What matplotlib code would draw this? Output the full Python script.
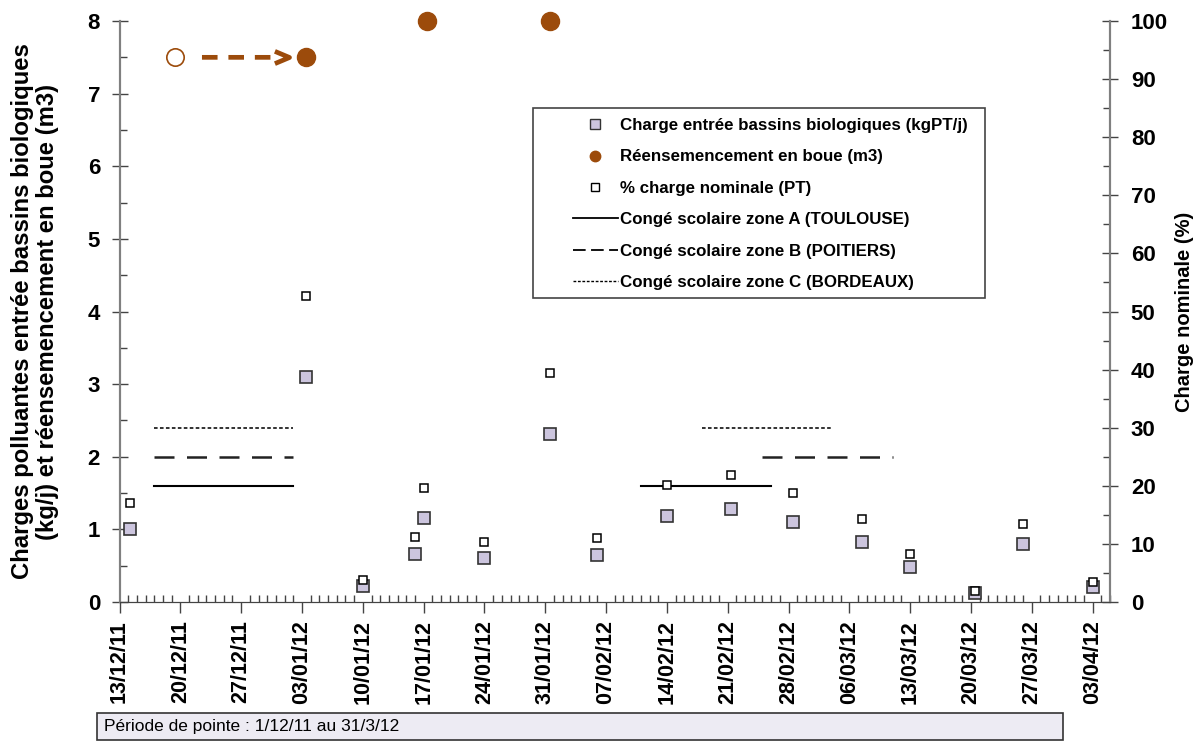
import matplotlib
matplotlib.use('Agg')
import matplotlib.pyplot as plt
from matplotlib.lines import Line2D
from matplotlib.patches import Rectangle
from matplotlib.transforms import ScaledTranslation
import matplotlib.dates as mdates
import pandas as pd
import datetime

plt.rcParams['font.family'] = ['Liberation Sans', 'DejaVu Sans']
plt.rcParams['font.weight'] = 'bold'

# charge entree bassins biologiques (kgPT/j) et % charge nominale
dates = ['2011-12-14 06:00', '2012-01-03 10:00', '2012-01-10 00:00', '2012-01-16 00:00',
         '2012-01-17 00:00', '2012-01-24 00:00', '2012-01-31 12:00', '2012-02-06 00:00',
         '2012-02-14 00:00', '2012-02-21 10:00', '2012-02-28 12:00', '2012-03-07 10:00',
         '2012-03-13 00:00', '2012-03-20 10:00', '2012-03-26 00:00', '2012-04-03 00:00']
charge = [1.00, 3.10, 0.22, 0.66, 1.15, 0.61, 2.32, 0.65, 1.18, 1.28,
          1.10, 0.83, 0.48, 0.12, 0.80, 0.20]
pct_nominal = [17.1, 52.7, 3.8, 11.2, 19.6, 10.3, 39.4, 11.0, 20.1, 21.9,
               18.7, 14.2, 8.3, 1.9, 13.5, 3.5]

# reensemencement en boue (m3)
reseed_planned = ('2011-12-19 10:00', 7.5)
reseed_dates = ['2012-01-03 10:00', '2012-01-17 10:00', '2012-01-31 12:00']
reseed_vol = [7.5, 8.0, 8.0]

# conges scolaires (debut, fin)
zone_a = [('2011-12-17', '2012-01-02'), ('2012-02-11', '2012-02-26')]
zone_b = [('2011-12-17', '2012-01-02'), ('2012-02-25', '2012-03-11')]
zone_c = [('2011-12-17', '2012-01-02'), ('2012-02-18', '2012-03-04')]
level_a, level_b, level_c = 1.6, 2.0, 2.4

brown = '#9C4B0B'
lav = '#CCC5DE'
grey = '#808080'


def to_dt(x):
    return pd.to_datetime(x, format='ISO8601')


d = to_dt(dates)

fig = plt.figure(figsize=(12.04, 7.43), dpi=100)
ax = fig.add_axes([0.0993, 0.1898, 0.8226, 0.7819])
ax2 = ax.twinx()

for (a, b) in zone_a:
    ax.plot(to_dt([a, b]), [level_a, level_a], color='black', lw=1.5)
for (a, b) in zone_b:
    ax.plot(to_dt([a, b]), [level_b, level_b], color='#222222', lw=1.8,
            dashes=(8, 5))
for (a, b) in zone_c:
    ax.plot(to_dt([a, b]), [level_c, level_c], color='#222222', lw=1.3,
            dashes=(2, 1.3))

ax.plot(d, charge, 's', ms=8.6, mfc=lav, mec='#333333', mew=1.2, zorder=5)
ax2.plot(d, pct_nominal, 's', ms=6.3, mfc='white', mec='black', mew=1.1, zorder=5)

# reensemencement prevu -> reel
ax.plot(to_dt([reseed_planned[0]]), [reseed_planned[1]], 'o', ms=12.5,
        mfc='white', mec=brown, mew=1.2, clip_on=False, zorder=6)
ax.plot(to_dt(reseed_dates), reseed_vol, 'o', ms=13, color=brown,
        clip_on=False, zorder=6)
ax.annotate('', xy=(to_dt(reseed_dates[0]), reseed_vol[0]),
            xytext=(to_dt(reseed_planned[0]), reseed_planned[1]),
            arrowprops=dict(arrowstyle='-', color=brown, lw=3.4,
                            linestyle=(0, (3.3, 2.3)), capstyle='butt',
                            shrinkA=19.2, shrinkB=24.3))
chevron = [(-1, 0.42), (0, 0), (-1, -0.42)]
ax.plot(to_dt([reseed_dates[0]]), [reseed_vol[0]], ls='none', marker=chevron,
        ms=21, mec=brown, mew=3.4, fillstyle='none', clip_on=False,
        transform=ax.transData + ScaledTranslation(-0.165, 0, fig.dpi_scale_trans))

ax.set_xlim(datetime.datetime(2011, 12, 13), datetime.datetime(2012, 4, 5))
ax.set_ylim(0, 8)
ax2.set_ylim(0, 100)

week_ticks = pd.date_range('2011-12-13', '2012-04-03', freq='7D')
ax.set_xticks(week_ticks)
ax.xaxis.set_minor_locator(mdates.DayLocator())
ax.xaxis.set_major_formatter(mdates.DateFormatter('%d/%m/%y'))
ax.tick_params(axis='x', which='major', direction='out', length=8, width=1,
               color='#444444', labelsize=15.5, pad=5, labelrotation=90)
ax.tick_params(axis='x', which='minor', direction='in', length=5, width=1,
               color='#444444')

ax.set_yticks(range(0, 9))
ax.set_yticks([i + 0.5 for i in range(8)], minor=True)
ax.tick_params(axis='y', which='major', direction='inout', length=12, width=1,
               color='#444444', labelsize=16, pad=8)
ax.tick_params(axis='y', which='minor', direction='in', length=5, width=1,
               color='#444444')
ax2.set_yticks(range(0, 101, 10))
ax2.set_yticks(range(5, 100, 10), minor=True)
ax2.tick_params(axis='y', which='major', direction='inout', length=12, width=1,
                color='#444444', labelsize=16, pad=9)
ax2.tick_params(axis='y', which='minor', direction='in', length=5, width=1,
                color='#444444')

for a in (ax, ax2):
    a.spines['top'].set_visible(False)
    a.spines['left'].set_color(grey)
    a.spines['right'].set_color(grey)
    a.spines['bottom'].set_color('#444444')
    a.spines['left'].set_linewidth(1.5)
    a.spines['right'].set_linewidth(1.5)

ax.set_ylabel('Charges polluantes entrée bassins biologiques\n(kg/j) et réensemencement en boue (m3)',
              fontsize=17.2, fontweight='bold', linespacing=1.12)
ax.yaxis.set_label_coords(-0.061, 0.5)
ax2.set_ylabel('Charge nominale (%)', fontsize=14.5, fontweight='bold')
ax2.yaxis.set_label_coords(1.066, 0.5)

handles = [
    Line2D([], [], ls='none', marker='s', ms=7, mfc=lav, mec='#333333'),
    Line2D([], [], ls='none', marker='o', ms=7.5, mfc=brown, mec=brown),
    Line2D([], [], ls='none', marker='s', ms=6, mfc='white', mec='black'),
    Line2D([], [], color='black', lw=1.3),
    Line2D([], [], color='black', lw=1.3, dashes=(7, 3)),
    Line2D([], [], color='black', lw=1.0, dashes=(2, 1.2)),
]
labels = ['Charge entrée bassins biologiques (kgPT/j)',
          'Réensemencement en boue (m3)',
          '% charge nominale (PT)',
          'Congé scolaire zone A (TOULOUSE)',
          'Congé scolaire zone B (POITIERS)',
          'Congé scolaire zone C (BORDEAUX)']
fig.patches.append(Rectangle((533 / 1204, 1 - 298 / 743), 452 / 1204, 190 / 743,
                             transform=fig.transFigure, facecolor='white',
                             edgecolor='#444444', lw=1.2, zorder=3))
leg = fig.legend(handles, labels, loc='upper left', bbox_to_anchor=(573 / 1204, 1 - 118 / 743),
                 prop={'size': 12.2, 'weight': 'bold'}, labelspacing=0.97,
                 handlelength=2.65, handletextpad=0.12, borderpad=0, borderaxespad=0,
                 frameon=False)
leg.set_zorder(4)

fig.patches.append(Rectangle((97 / 1204, 1 - 740 / 743), 966 / 1204, 27 / 743,
                             transform=fig.transFigure, facecolor='#EDEBF3',
                             edgecolor='#333333', lw=1.2))
fig.text(104 / 1204, 1 - 727 / 743, 'Période de pointe : 1/12/11 au 31/3/12',
         fontsize=12.5, fontweight='normal', va='center', ha='left')

fig.savefig('out.png', dpi=100, facecolor='white')
